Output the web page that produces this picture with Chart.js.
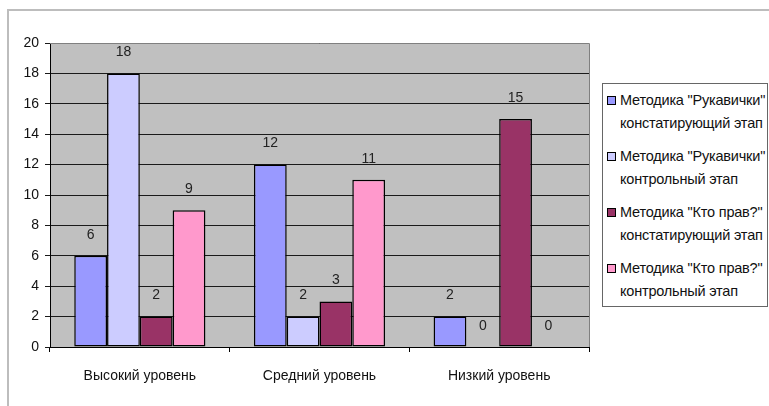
<!DOCTYPE html>
<html><head><meta charset="utf-8">
<script src="https://cdn.jsdelivr.net/npm/chart.js@4.4.0/dist/chart.umd.min.js"></script>
<style>
html,body{margin:0;padding:0;background:#fff;}
#wrap{position:relative;width:769px;height:406px;}
#legend{position:absolute;left:602px;top:83px;width:166px;height:224px;border:1px solid #666;box-sizing:border-box;background:#fff;font-family:"Liberation Sans",Arial,sans-serif;font-size:14.5px;color:#111;}
.item{position:absolute;left:4px;line-height:23px;}
.sw{position:absolute;left:0;top:7px;width:7px;height:7px;border:1px solid #000;}
.txt{margin-left:13px;white-space:nowrap;letter-spacing:-0.2px;}
</style></head>
<body><div id="wrap"><canvas id="c" width="769" height="406"></canvas><div id="legend"></div></div>
<script>
const categories = ["Высокий уровень", "Средний уровень", "Низкий уровень"];
const seriesNames = [
  ['Методика "Рукавички"', 'констатирующий этап'],
  ['Методика "Рукавички"', 'контрольный этап'],
  ['Методика "Кто прав?"', 'констатирующий этап'],
  ['Методика "Кто прав?"', 'контрольный этап']
];
const rukConst = [6, 12, 2];
const rukCtrl = [18, 2, 0];
const ktoConst = [2, 3, 15];
const ktoCtrl = [9, 11, 0];
const colors = ["#9999FF", "#CCCCFF", "#993366", "#FF99CC"];
const yTicks = [0, 2, 4, 6, 8, 10, 12, 14, 16, 18, 20];

const seriesData = [rukConst, rukCtrl, ktoConst, ktoCtrl];
const FONT = '"Liberation Sans", Arial, sans-serif';

const frame = {
  id: 'frame',
  beforeDraw(chart) {
    const ctx = chart.ctx, a = chart.chartArea;
    ctx.save();
    ctx.fillStyle = '#C0C0C0';
    ctx.fillRect(a.left, a.top, a.right - a.left, a.bottom - a.top);
    ctx.strokeStyle = '#BDBDBD';
    ctx.lineWidth = 2;
    ctx.beginPath();
    ctx.moveTo(8, 406); ctx.lineTo(8, 10); ctx.lineTo(769, 10);
    ctx.stroke();
    ctx.restore();
  },
  afterDatasetsDraw(chart) {
    const ctx = chart.ctx, a = chart.chartArea;
    ctx.save();
    ctx.strokeStyle = '#808080';
    ctx.lineWidth = 1;
    ctx.beginPath();
    ctx.moveTo(a.left, a.top + 0.5); ctx.lineTo(a.right + 0.5, a.top + 0.5); ctx.lineTo(a.right + 0.5, a.bottom);
    ctx.stroke();
    ctx.font = '14px ' + FONT;
    ctx.fillStyle = '#222';
    ctx.textAlign = 'center';
    ctx.textBaseline = 'middle';
    chart.data.datasets.forEach((ds, i) => {
      chart.getDatasetMeta(i).data.forEach((bar, j) => {
        ctx.fillText(String(ds.data[j]), bar.x, bar.y - 21);
      });
    });
    ctx.restore();
  }
};

new Chart(document.getElementById('c'), {
  type: 'bar',
  data: {
    labels: categories,
    datasets: seriesData.map((d, i) => ({
      label: seriesNames[i].join(' '),
      data: d,
      backgroundColor: colors[i],
      borderColor: '#000',
      borderWidth: 1.5,
      borderSkipped: false,
      categoryPercentage: 0.73,
      barPercentage: 1
    }))
  },
  options: {
    responsive: false,
    animation: false,
    devicePixelRatio: 1,
    layout: { padding: { left: 0, top: 43, right: 180, bottom: 0 } },
    plugins: { legend: { display: false }, tooltip: { enabled: false } },
    scales: {
      x: {
        offset: true,
        afterFit(s) { s.height = 59; },
        grid: { offset: true, drawOnChartArea: false, drawTicks: true, tickLength: 5, color: '#000' },
        border: { color: '#000', width: 1 },
        ticks: { font: { family: FONT, size: 14 }, color: '#111', padding: 16 }
      },
      y: {
        min: 0, max: 20,
        afterFit(s) { s.width = 50; },
        afterBuildTicks(s) { s.ticks = yTicks.map(v => ({ value: v })); },
        grid: { color: '#1a1a1a', tickLength: 5, lineWidth: 1 },
        border: { color: '#000', width: 1 },
        ticks: { font: { family: FONT, size: 14 }, color: '#111', padding: 6 }
      }
    }
  },
  plugins: [frame]
});

const leg = document.getElementById('legend');
const tops = [5, 61, 117, 173];
seriesNames.forEach((n, i) => {
  const it = document.createElement('div');
  it.className = 'item';
  it.style.top = tops[i] + 'px';
  it.innerHTML = '<div class="sw" style="background:' + colors[i] + '"></div><div class="txt"></div><div class="txt"></div>';
  const t = it.querySelectorAll('.txt');
  t[0].textContent = n[0];
  t[1].textContent = n[1];
  leg.appendChild(it);
});
</script></body></html>
